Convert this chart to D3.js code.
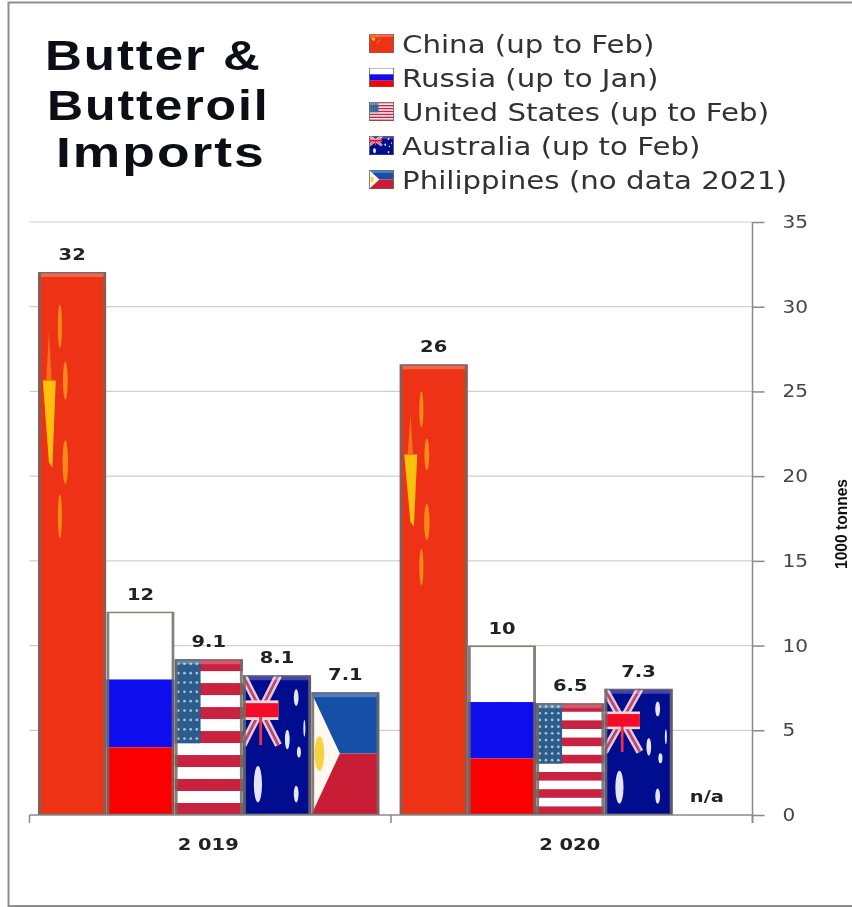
<!DOCTYPE html>
<html lang="en">
<head>
    <title>Butter & Butteroil Imports</title>
    <meta charset="utf-8">
    <script src="https://d3js.org/d3.v7.min.js"></script>
    <style>
        html, body { margin: 0; padding: 0; background: #fff; }
        svg { display: block; }
        text { font-family: "DejaVu Sans", sans-serif; }
        text.title { font-family: "Liberation Sans", Arial, sans-serif; font-weight: bold; }
        text.unit { font-family: "Liberation Sans", Arial, sans-serif; font-weight: bold; }
        text.bold { font-weight: bold; }
    </style>
</head>
<body>
<div id="chart"></div>

<script>
    // values; bar heights sit slightly above the printed labels
    const years = ["2 019", "2 020"];
    const countries = ["China", "Russia", "United States", "Australia", "Philippines"];
    const legendLabels = ["China (up to Feb)", "Russia (up to Jan)", "United States (up to Feb)", "Australia (up to Feb)", "Philippines (no data 2021)"];
    const values2019 = [32.05, 12, 9.2, 8.25, 7.25];
    const values2020 = [26.6, 10, 6.6, 7.45, null];
    const labels2019 = ["32", "12", "9.1", "8.1", "7.1"];
    const labels2020 = ["26", "10", "6.5", "7.3", "n/a"];
    const yTicks = [0, 5, 10, 15, 20, 25, 30, 35];
    const titleLines = ["Butter &", "Butteroil", "Imports"];

    const width = 852, height = 907;
    const svg = d3.select("#chart").append("svg").attr("width", width).attr("height", height);
    const defs = svg.append("defs");
    // the reference is a soft, resampled screenshot
    defs.append("filter").attr("id", "soft").append("feGaussianBlur").attr("stdDeviation", 0.6);
    const root = svg.append("g").attr("filter", "url(#soft)");
    root.append("rect").attr("width", width).attr("height", height).attr("fill", "#fff");

    const y = d3.scaleLinear().domain([0, 35]).range([815, 222]);
    const x0 = d3.scaleBand().domain(years).range([29.5, 752.5]);
    const x1 = d3.scaleBand().domain(countries).range([8.5, x0.bandwidth() - 11.5]);

    // the picture's text is wider than any installed font, so stretch it
    function stretch(sel, k) {
        sel.each(function() {
            d3.select(this).attr("textLength", this.getComputedTextLength() * k)
                .attr("lengthAdjust", "spacingAndGlyphs");
        });
        return sel;
    }

    // frame, no right edge in the picture
    root.append("path").attr("d", `M${width + 5},2.5H8.5V906H${width + 5}`)
        .attr("fill", "none").attr("stroke", "#8e8e8e").attr("stroke-width", 2);

    // gridlines
    root.append("g").selectAll("line").data(yTicks.filter(d => d > 0)).join("line")
        .attr("x1", x0.range()[0]).attr("x2", x0.range()[1])
        .attr("y1", d => y(d)).attr("y2", d => y(d))
        .attr("stroke", "#cfcfcf").attr("stroke-width", 1.2);

    function rect(g, px, py, w, h, fill) {
        g.append("rect").attr("x", px).attr("y", py).attr("width", w).attr("height", h).attr("fill", fill);
    }

    function blobs(g, w, h, list, fill) {
        list.forEach(s => g.append("ellipse").attr("cx", s[0] * w).attr("cy", s[1] * h)
            .attr("rx", s[2] * w).attr("ry", s[3] * h).attr("fill", fill));
    }

    // flag painters, all parts are fractions of the box they get
    const flags = {
        "China": (g, w, h) => {
            rect(g, 0, 0, w, h, "#ee3316");
            blobs(g, w, h, [[.32, .1, .03, .04], [.4, .2, .035, .035], [.4, .35, .04, .04], [.32, .45, .03, .04]], "#f58a18");
            g.append("path").attr("d", `M${.07 * w},${.2 * h}L${.26 * w},${.2 * h}L${.21 * w},${.36 * h}L${.16 * w},${.35 * h}Z`)
                .attr("fill", "#fdc111");
            g.append("path").attr("d", `M${.16 * w},${.11 * h}L${.2 * w},${.2 * h}L${.12 * w},${.2 * h}Z`)
                .attr("fill", "#f6701a");
        },
        "Russia": (g, w, h) => {
            rect(g, 0, 0, w, h / 3, "#ffffff");
            rect(g, 0, h / 3, w, h / 3, "#0808ee");
            rect(g, 0, 2 * h / 3, w, h / 3, "#fb0303");
        },
        "United States": (g, w, h) => {
            rect(g, 0, 0, w, h, "#ffffff");
            d3.range(0, 13, 2).forEach(i => rect(g, 0, i * h / 13, w, h / 13, "#c8203f"));
            rect(g, 0, 0, w * .38, h * .54, "#2a5c8c");
            d3.range(9).forEach(r => d3.range(4).forEach(c => {
                g.append("circle").attr("cx", (c + .6) / 4.2 * .38 * w).attr("cy", (r + .5) / 9 * .54 * h)
                    .attr("r", Math.min(w, h) * .02).attr("fill", "#a9c3d8");
            }));
        },
        "Australia": (g, w, h) => {
            rect(g, 0, 0, w, h, "#03078f");
            const uw = .52 * w, uh = .5 * h;
            g.append("path").attr("d", `M0,0L${uw},${uh}M${uw},0L0,${uh}`).attr("stroke", "#e8c8d8").attr("stroke-width", w * .11);
            g.append("path").attr("d", `M0,0L${uw},${uh}M${uw},0L0,${uh}`).attr("stroke", "#b84a70").attr("stroke-width", w * .04);
            rect(g, 0, uh * .36, uw, uh * .28, "#f4d8dc");
            rect(g, uw * .46, uh * .5, uw * .08, uh * .5, "#e8304a");
            rect(g, 0, uh * .4, uw, uh * .2, "#f1102a");
            blobs(g, w, h, [[.22, .78, .06, .13], [.78, .16, .035, .06], [.65, .46, .035, .07], [.9, .38, .015, .06], [.82, .55, .03, .04], [.78, .85, .035, .06]], "#e4e6f5");
        },
        "Philippines": (g, w, h) => {
            rect(g, 0, 0, w, h / 2, "#1550a8");
            rect(g, 0, h / 2, w, h / 2, "#c91f34");
            g.append("path").attr("d", `M0,0L${.42 * w},${h / 2}L0,${h}Z`).attr("fill", "#fff8f0");
            blobs(g, w, h, [[.12, .5, .07, .14]], "#f8d23c");
        }
    };

    // one flag filling a box, with the grey bevel the bars have
    let clipId = 0;
    function drawFlag(name, px, py, w, h, edge) {
        const id = "clip" + clipId++;
        defs.append("clipPath").attr("id", id).append("rect").attr("width", w).attr("height", h);
        const g = root.append("g").attr("transform", `translate(${px},${py})`).attr("clip-path", `url(#${id})`);
        flags[name](g, w, h);
        if (name !== "Russia") {
            g.append("path").attr("d", `M0,0H${w}L${w - edge},${edge + 2}H${edge}Z`).attr("fill", "#fff").attr("opacity", .25);
        }
        g.append("rect").attr("x", edge / 2).attr("y", 0).attr("width", w - edge).attr("height", h)
            .attr("fill", "none").attr("stroke", "#6e6a64").attr("stroke-width", edge).attr("opacity", .85);
    }

    const groups = [
        {year: years[0], values: values2019, labels: labels2019},
        {year: years[1], values: values2020, labels: labels2020}
    ];

    groups.forEach(group => {
        countries.forEach((c, i) => {
            const v = group.values[i];
            const bx = x0(group.year) + x1(c);
            const cx = bx + x1.bandwidth() / 2;
            if (v !== null) {
                drawFlag(c, bx, y(v), x1.bandwidth(), y(0) - y(v), 3);
            }
            root.append("text")
                .attr("class", "bold")
                .attr("x", cx)
                .attr("y", v !== null ? y(v) - 12 : y(0) - 13)
                .attr("text-anchor", "middle")
                .attr("font-size", 16.5)
                .attr("fill", "#222")
                .text(group.labels[i])
                .call(stretch, 1.18);
        });
    });

    // axes
    const axisColor = "#8a8a8a";
    const xAxis = root.append("g").attr("transform", `translate(0,${y(0)})`);
    xAxis.append("line").attr("x1", x0.range()[0]).attr("x2", x0.range()[1]).attr("stroke", axisColor).attr("stroke-width", 1.5);
    [x0(years[0]), x0(years[1]), x0.range()[1]].forEach(d => {
        xAxis.append("line").attr("x1", d).attr("x2", d).attr("y1", 0).attr("y2", 8).attr("stroke", axisColor).attr("stroke-width", 1.5);
    });
    xAxis.selectAll("text").data(years).join("text")
        .attr("class", "bold")
        .attr("x", d => x0(d) + x0.bandwidth() / 2 - 2)
        .attr("y", 35)
        .attr("text-anchor", "middle")
        .attr("font-size", 16.5)
        .attr("fill", "#222")
        .text(d => d)
        .call(stretch, 1.18);

    const yAxis = root.append("g").attr("transform", `translate(${x0.range()[1]},0)`)
        .call(d3.axisRight(y).tickValues(yTicks).tickSize(12).tickPadding(18));
    yAxis.attr("font-family", null);
    yAxis.select(".domain").attr("stroke", axisColor).attr("stroke-width", 1.5).attr("d", `M0,${y(35)}V${y(0) + 8}`);
    yAxis.selectAll(".tick line").attr("stroke", axisColor).attr("stroke-width", 1.5);
    yAxis.selectAll(".tick text")
        .attr("font-size", 17)
        .attr("fill", "#444")
        .call(stretch, 1.18);

    root.append("text")
        .attr("class", "unit")
        .attr("transform", "translate(847,524) rotate(-90)")
        .attr("text-anchor", "middle")
        .attr("font-size", 17)
        .attr("textLength", 90)
        .attr("lengthAdjust", "spacingAndGlyphs")
        .attr("fill", "#111")
        .text("1000 tonnes");

    // title
    const titleX = [45, 47, 56], titleY = [70, 120, 167];
    const titleStretch = [1.215, 1.19, 1.27];
    titleLines.forEach((t, i) => {
        root.append("text")
            .attr("class", "title")
            .attr("x", titleX[i]).attr("y", titleY[i])
            .attr("font-size", 42)
            .attr("letter-spacing", 1.6)
            .attr("fill", "#0c0c14")
            .text(t)
            .call(stretch, titleStretch[i]);
    });

    // legend
    const legendY = d3.scalePoint().domain(countries).range([45, 181]);
    countries.forEach((c, i) => {
        drawFlag(c, 369, legendY(c) - 11, 25, 19, 1);
        root.append("text")
            .attr("x", 402).attr("y", legendY(c) + 8)
            .attr("font-size", 25)
            .attr("fill", "#333")
            .text(legendLabels[i])
            .call(stretch, 1.17);
    });
</script>
</body>
</html>
